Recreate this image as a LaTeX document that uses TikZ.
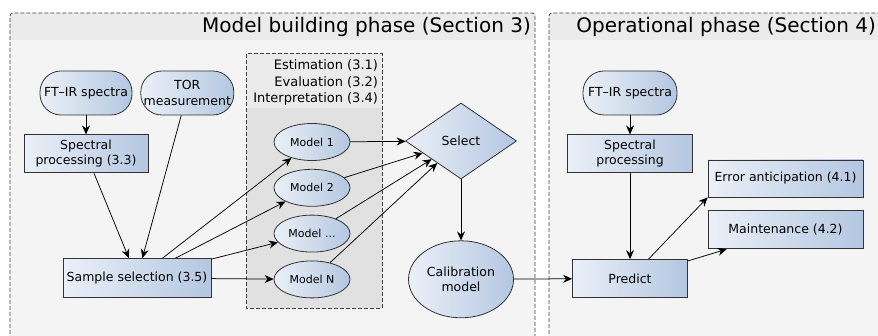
\documentclass[tikz,border=0pt]{standalone}
\usepackage{fontspec}
\setmainfont{DejaVu Sans}
\usetikzlibrary{arrows.meta,positioning,shapes.geometric}

\definecolor{headgray}{HTML}{EBEBEB}
\definecolor{bodygray}{HTML}{F4F4F4}
\definecolor{boxgray}{HTML}{E1E1E1}
\definecolor{shadelight}{HTML}{EBF0F8}
\definecolor{shadedark}{HTML}{B4C7E1}

\begin{document}
\begin{tikzpicture}[
  x=1pt, y=1pt,
  node distance=8pt,
  every node/.style={font=\fontsize{12.5}{15.5}\selectfont, text=black},
  shaded/.style={draw=black!80, line width=0.8pt, left color=shadelight, right color=shadedark},
  proc/.style={shaded, rectangle, align=center, inner sep=1pt},
  term/.style={shaded, rectangle, rounded corners=21pt, align=center,
    minimum height=44pt, inner sep=1pt},
  model/.style={shaded, ellipse, minimum width=76pt, minimum height=37pt,
    inner sep=0pt, font=\fontsize{11}{12}\selectfont},
  calbox/.style={shaded, ellipse, minimum width=105pt, minimum height=77pt,
    inner sep=0pt, align=center},
  choice/.style={shaded, diamond, minimum width=111pt, minimum height=76pt, inner sep=0pt},
  border/.style={dash pattern=on 4pt off 2pt, line width=0.7pt, draw=black!75},
  title/.style={anchor=east, inner sep=0pt, font=\fontsize{20}{24}\selectfont},
  arr/.style={-{Stealth[length=9pt, width=8pt, inset=3pt]}, line width=0.75pt}
]
  \useasboundingbox (0,0) rectangle (878,-336);

  \fill[bodygray] (10,-400) rectangle (535,-13);
  \fill[headgray] (10,-40) [rounded corners=3pt]-- (10,-13) -- (535,-13) [sharp corners]-- (535,-40) -- cycle;
  \draw[border] (10,-400) [rounded corners=3pt]-- (10,-13) -- (535,-13) [sharp corners]-- (535,-400);
  \node[title] (buildtitle) at (531,-27) {Model building phase (Section 3)};

  \fill[bodygray] (549,-400) rectangle (900,-13);
  \fill[headgray] (549,-40) [rounded corners=3pt]-- (549,-13) -- (900,-13) [sharp corners]-- (900,-40) -- cycle;
  \draw[border] (549,-400) [rounded corners=3pt]-- (549,-13) -- (900,-13);
  \node[title] (optitle) at (876,-27) {Operational phase (Section 4)};

  \node[fill=boxgray, minimum width=135pt, minimum height=254pt, inner sep=0pt] (group) at (314.5,-181) {};
  \fill[headgray] (group.north west) rectangle (group.east |- 0,-108);
  \draw[border] (group.north west) rectangle (group.south east);
  \node[anchor=north east, align=right, inner sep=0pt, font=\fontsize{13}{16.5}\selectfont]
    (steps) at ([shift={(-4pt,-6pt)}]group.north east)
    {Estimation (3.1)\\Evaluation (3.2)\\Interpretation (3.4)};

  \node[term, minimum width=92pt] (ftir) at (86,-93) {FT--IR spectra};
  \node[term, minimum width=93pt, right=8pt of ftir] (tor) {TOR\\measurement};
  \node[proc, minimum width=124pt, minimum height=38pt, below=19pt of ftir] (spec) {Spectral\\processing (3.3)};
  \node[proc, minimum width=148pt, minimum height=39pt] (sample) at (137,-278) {Sample selection (3.5)};

  \node[model] (m1) at (312,-142) {Model 1};
  \node[model, below=of m1] (m2) {Model 2};
  \node[model, below=of m2] (m3) {Model ...};
  \node[model, below=of m3] (mN) {Model N};

  \node[choice] (select) at (461,-141) {Select};
  \node[calbox, below=61pt of select] (calib) {Calibration\\model};

  \node[term, minimum width=94pt] (ftir2) at (630,-93) {FT--IR spectra};
  \node[proc, minimum width=125pt, minimum height=38pt, below=19pt of ftir2] (spec2) {Spectral\\processing};
  \node[proc, minimum width=115pt, minimum height=38pt] (predict) at (630,-278.5) {Predict};
  \node[proc, minimum width=155pt, minimum height=37pt] (err) at (785.5,-178.5) {Error anticipation (4.1)};
  \node[proc, minimum width=155pt, minimum height=38pt, below=13pt of err] (maint) {Maintenance (4.2)};

  \draw[arr] (ftir) -- (spec);
  \draw[arr] (spec) -- (sample);
  \draw[arr] (tor) -- (sample);
  \draw[arr] (sample) -- (m1);
  \draw[arr] (sample) -- (m2);
  \draw[arr] (sample) -- (m3);
  \draw[arr] (sample) -- (mN);
  \draw[arr] (m1) -- (select);
  \draw[arr] (m2) -- (select);
  \draw[arr] (m3) -- (select);
  \draw[arr] (mN) -- (select);
  \draw[arr] (select) -- (calib);
  \draw[arr] (calib) -- (predict);
  \draw[arr] (ftir2) -- (spec2);
  \draw[arr] (spec2) -- (predict);
  \draw[arr] (predict) -- (err.south west);
  \draw[arr] (predict) -- ([xshift=19pt]maint.south west);
\end{tikzpicture}
\end{document}
